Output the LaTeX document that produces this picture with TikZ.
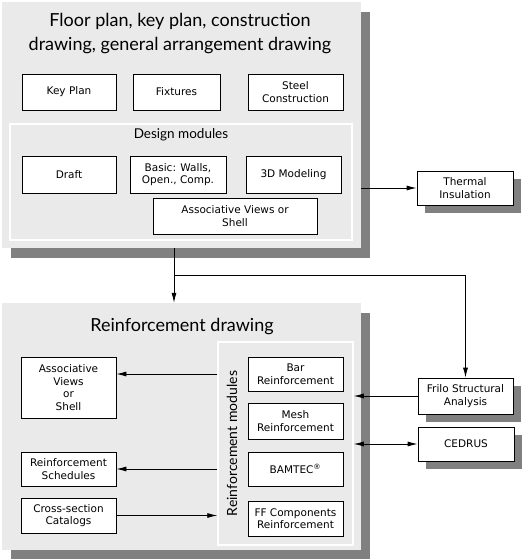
\documentclass[tikz,border=0pt]{standalone}
\usepackage{fontspec}
\setmainfont{DejaVu Sans}
\newfontfamily\headfont{Lato}
\usetikzlibrary{arrows.meta,shadows}

\definecolor{panelgray}{HTML}{EAEAEA}
\definecolor{shadowgray}{HTML}{808080}

\tikzset{
  panel/.style={fill=panelgray, inner sep=0pt,
    drop shadow={shadow xshift=9pt, shadow yshift=-10pt, fill=shadowgray, opacity=1}},
  modpanel/.style={draw=white, line width=1.5pt, inner sep=0pt},
  box/.style={draw=black, fill=white, line width=0.8pt, inner sep=0pt, align=center,
    font={\fontsize{10.5}{12.5}\selectfont}},
  shbox/.style={box, drop shadow={shadow xshift=8pt, shadow yshift=-8pt, fill=shadowgray, opacity=1}},
  arr/.style={-{Latex[length=10pt,width=5pt]}, line width=0.8pt},
  dblarr/.style={{Latex[length=10pt,width=5pt]}-{Latex[length=10pt,width=5pt]}, line width=0.8pt}
}

\begin{document}
\begin{tikzpicture}[x=1pt,y=-1pt]
  \useasboundingbox (0,0) rectangle (522,559);

  % upper block
  \node[panel, minimum width=359pt, minimum height=246pt] (floor) at (181.5,125) {};
  \node[font={\headfont\fontsize{18}{24}\selectfont}, align=center] (floortitle) at (180,34)
    {Floor plan, key plan, construction\\drawing, general arrangement drawing};
  \node[box, minimum width=94pt, minimum height=36pt] (keyplan) at (69,92) {Key Plan};
  \node[box, minimum width=87pt, minimum height=36pt] (fixtures) at (176.5,92) {Fixtures};
  \node[box, minimum width=95pt, minimum height=36pt] (steel) at (295.5,92) {Steel\\Construction};

  \node[modpanel, minimum width=342pt, minimum height=116pt] (design) at (181,182) {};
  \node[font={\headfont\fontsize{13.5}{16}\selectfont}] (designtitle) at (181,135) {Design modules};
  \node[box, minimum width=94pt, minimum height=37pt] (draft) at (69,174.5) {Draft};
  \node[box, minimum width=96pt, minimum height=37pt] (basic) at (178,174.5) {Basic: Walls,\\Open., Comp.};
  \node[box, minimum width=95pt, minimum height=37pt] (modeling) at (293.5,174.5) {3D Modeling};
  \node[box, minimum width=164pt, minimum height=36pt] (assocshell) at (235,216) {Associative Views or\\Shell};

  \node[shbox, minimum width=96pt, minimum height=34pt] (thermal) at (465,188) {Thermal\\Insulation};

  % lower block
  \node[panel, minimum width=359pt, minimum height=247pt] (reinf) at (181.5,426.5) {};
  \node[font={\headfont\fontsize{18}{24}\selectfont}] (reinftitle) at (182,327) {Reinforcement drawing};

  \node[modpanel, minimum width=135pt, minimum height=203pt] (modules) at (285.5,443.5) {};
  \node[font={\headfont\fontsize{14}{16}\selectfont}, rotate=90] (modulestitle) at (232,443.5) {Reinforcement modules};
  \node[box, minimum width=95pt, minimum height=34pt] (bar) at (295.5,374) {Bar\\Reinforcement};
  \node[box, minimum width=95pt, minimum height=36pt] (mesh) at (295.5,421) {Mesh\\Reinforcement};
  \node[box, minimum width=95pt, minimum height=34pt] (bamtec) at (295.5,469) {BAMTEC\textsuperscript{®}};
  \node[box, minimum width=95pt, minimum height=35pt] (ffcomp) at (295.5,518.5) {FF Components\\Reinforcement};

  \node[box, minimum width=95pt, minimum height=61pt] (assocviews) at (68.5,387.5) {Associative\\Views\\or\\Shell};
  \node[box, minimum width=95pt, minimum height=34pt] (schedules) at (68.5,469) {Reinforcement\\Schedules};
  \node[box, minimum width=95pt, minimum height=35pt] (catalogs) at (68.5,515.5) {Cross-section\\Catalogs};

  \node[shbox, minimum width=95pt, minimum height=36pt] (frilo) at (465.5,396) {Frilo Structural\\Analysis};
  \node[shbox, minimum width=96pt, minimum height=34pt] (cedrus) at (466,444) {CEDRUS};

  % connectors
  \coordinate (fork) at (174,275);
  \draw[arr] (floor.east |- thermal) -- (thermal.west);
  \draw[arr] (floor.south -| fork) -- (reinf.north -| fork);
  \draw[arr] (fork) -| (frilo.north);
  \draw[arr] (frilo.west) -- (modules.east |- frilo.west);
  \draw[dblarr] (modules.east |- cedrus.west) -- (cedrus.west);
  \draw[arr] (modules.west |- bar) -- (assocviews.east |- bar);
  \draw[arr] (modules.west |- schedules) -- (schedules.east);
  \draw[arr] (catalogs.east) -- (modules.west |- catalogs);
\end{tikzpicture}
\end{document}
